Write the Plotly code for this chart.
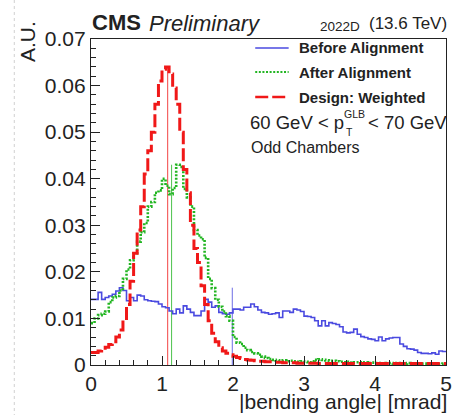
import numpy as np
import plotly.graph_objects as go

# |bending angle| histograms, 100 bins of 0.05 mrad between 0 and 5 mrad (normalised, A.U.)
bin_edges = np.round(np.linspace(0.0, 5.0, 101), 3)

before_alignment = [
    0.0141, 0.0141, 0.0156, 0.0141, 0.0145, 0.0148, 0.0152, 0.0159, 0.0166, 0.0160,
    0.0138, 0.0145, 0.0138, 0.0150, 0.0148, 0.0140, 0.0138, 0.0137, 0.0136, 0.0131,
    0.0125, 0.0123, 0.0116, 0.0110, 0.0120, 0.0112, 0.0127, 0.0120, 0.0113, 0.0106,
    0.0106, 0.0116, 0.0141, 0.0135, 0.0124, 0.0127, 0.0113, 0.0110, 0.0109, 0.0112,
    0.0120, 0.0120, 0.0118, 0.0124, 0.0124, 0.0131, 0.0125, 0.0118, 0.0113, 0.0112,
    0.0109, 0.0110, 0.0112, 0.0102, 0.0116, 0.0116, 0.0113, 0.0120, 0.0118, 0.0115,
    0.0105, 0.0104, 0.0102, 0.0095, 0.0084, 0.0095, 0.0084, 0.0091, 0.0089, 0.0087,
    0.0082, 0.0071, 0.0069, 0.0070, 0.0077, 0.0066, 0.0061, 0.0059, 0.0056, 0.0055,
    0.0052, 0.0060, 0.0052, 0.0056, 0.0058, 0.0059, 0.0059, 0.0045, 0.0040, 0.0035,
    0.0034, 0.0032, 0.0027, 0.0025, 0.0025, 0.0024, 0.0026, 0.0023, 0.0030, 0.0029,
]

after_alignment = [
    0.0090, 0.0100, 0.0107, 0.0110, 0.0115, 0.0135, 0.0145, 0.0148, 0.0160, 0.0185,
    0.0205, 0.0225, 0.0240, 0.0265, 0.0285, 0.0305, 0.0340, 0.0350, 0.0370, 0.0375,
    0.0400, 0.0385, 0.0367, 0.0380, 0.0430, 0.0425, 0.0378, 0.0360, 0.0340, 0.0290,
    0.0278, 0.0270, 0.0230, 0.0185, 0.0165, 0.0140, 0.0125, 0.0115, 0.0105, 0.0095,
    0.0060, 0.0048, 0.0045, 0.0037, 0.0032, 0.0028, 0.0025, 0.0022, 0.0018, 0.0015,
    0.0013, 0.0011, 0.0010, 0.0009, 0.0010, 0.0008, 0.0009, 0.0008, 0.0007, 0.0008,
    0.0007, 0.0006, 0.0008, 0.0011, 0.0012, 0.0011, 0.0010, 0.0009, 0.0009, 0.0008,
    0.0007, 0.0006, 0.0007, 0.0005, 0.0006, 0.0006, 0.0005, 0.0006, 0.0004, 0.0005,
    0.0004, 0.0004, 0.0003, 0.0004, 0.0004, 0.0003, 0.0004, 0.0003, 0.0003, 0.0004,
    0.0003, 0.0003, 0.0002, 0.0003, 0.0003, 0.0002, 0.0003, 0.0002, 0.0002, 0.0003,
]

design_weighted = [
    0.0027, 0.0027, 0.0030, 0.0033, 0.0038, 0.0044, 0.0050, 0.0060, 0.0075, 0.0100,
    0.0130, 0.0180, 0.0240, 0.0290, 0.0340, 0.0410, 0.0460, 0.0500, 0.0560, 0.0610,
    0.0635, 0.0640, 0.0625, 0.0595, 0.0560, 0.0500, 0.0420, 0.0370, 0.0300, 0.0250,
    0.0220, 0.0170, 0.0130, 0.0095, 0.0068, 0.0050, 0.0037, 0.0030, 0.0025, 0.0022,
    0.0019, 0.0016, 0.0014, 0.0012, 0.0011, 0.0010, 0.0009, 0.0008, 0.0008, 0.0007,
    0.0007, 0.0006, 0.0006, 0.0006, 0.0005, 0.0005, 0.0005, 0.0005, 0.0004, 0.0004,
    0.0004, 0.0004, 0.0004, 0.0004, 0.0003, 0.0003, 0.0003, 0.0003, 0.0003, 0.0003,
    0.0003, 0.0003, 0.0003, 0.0003, 0.0003, 0.0003, 0.0003, 0.0003, 0.0003, 0.0003,
    0.0003, 0.0003, 0.0003, 0.0003, 0.0003, 0.0003, 0.0003, 0.0003, 0.0003, 0.0003,
    0.0003, 0.0003, 0.0003, 0.0003, 0.0003, 0.0003, 0.0003, 0.0003, 0.0003, 0.0003,
]

# Position of the marker line drawn for each distribution [mrad]
marker_before = 1.99
marker_after = 1.135
marker_design = 1.08

series_names = ["Before Alignment", "After Alignment", "Design: Weighted"]
x_tick_values = [0, 1, 2, 3, 4, 5]
y_tick_values = [0, 0.01, 0.02, 0.03, 0.04, 0.05, 0.06, 0.07]
y_tick_labels = ["0", "0.01", "0.02", "0.03", "0.04", "0.05", "0.06", "0.07"]

FONT = "Liberation Sans, Arial, Helvetica, sans-serif"
W, H = 458, 415
ML, MR, MT, MB = 91, 6, 39, 50
PW, PH = W - ML - MR, H - MT - MB


def px(x):
    return (x - ML) / PW


def py(y):
    return (H - MB - y) / PH


def step_xy(values):
    xs = list(bin_edges)
    ys = list(values) + [values[-1]]
    return xs, ys


styles = [
    dict(color="#4a4ae0", width=1.6, dash="solid"),
    dict(color="#22b522", width=2.6, dash="2px,1.6px"),
    dict(color="#f01818", width=3.0, dash="13px,4px"),
]
series = [before_alignment, after_alignment, design_weighted]
markers = [marker_before, marker_after, marker_design]

fig = go.Figure()

# thin marker lines, from zero up to each histogram's maximum
for vals, mx, st in zip(series, markers, styles):
    fig.add_trace(go.Scatter(
        x=[mx, mx], y=[0, max(vals)], mode="lines",
        line=dict(color=st["color"], width=1), opacity=0.8,
        showlegend=False, hoverinfo="skip"))

for name, vals, st in zip(series_names, series, styles):
    xs, ys = step_xy(vals)
    fig.add_trace(go.Scatter(
        x=xs, y=ys, mode="lines", name=name, line_shape="hv",
        line=dict(color=st["color"], width=st["width"], dash=st["dash"]),
        showlegend=False))

axis_common = dict(
    showgrid=False, zeroline=False, showline=True, mirror=True,
    linecolor="#222", linewidth=1.4, ticks="inside", tickcolor="#222",
    tickwidth=1, tickfont=dict(family=FONT, size=21, color="#222"),
)
fig.update_xaxes(range=[0, 5], tickvals=x_tick_values, ticklen=9,
                 minor=dict(ticks="inside", ticklen=5, dtick=0.2, tickcolor="#222"),
                 **axis_common)
fig.update_yaxes(range=[0, 0.07], tickvals=y_tick_values, ticktext=y_tick_labels,
                 ticklen=9,
                 minor=dict(ticks="inside", ticklen=5, dtick=0.002, tickcolor="#222"),
                 **axis_common)

ann = []


def text(s, x, y, size, xanchor="left", yanchor="middle", **kw):
    ann.append(dict(text=s, x=px(x), y=py(y), xref="paper", yref="paper",
                    xanchor=xanchor, yanchor=yanchor, showarrow=False,
                    font=dict(family=FONT, size=size, color="#222"), **kw))


# header
text("<b>CMS</b>", 90, 22, 22)
text("<i>Preliminary</i>", 148, 23, 22)
text("2022D", 322, 26, 13.5)
text("(13.6 TeV)", 455, 23, 17, xanchor="right")

# axis titles
text("A.U.", 27, 42, 21, xanchor="center", textangle=-90)
text("|bending angle| [mrad]", 455, 401, 21, xanchor="right")

# legend
legend_rows = [48, 72, 97]
shapes = []
for name, st, yr in zip(series_names, styles, legend_rows):
    shapes.append(dict(type="line", xref="paper", yref="paper",
                       x0=px(258), x1=px(292), y0=py(yr), y1=py(yr),
                       line=dict(color=st["color"], width=st["width"] * 0.8,
                                 dash=st["dash"])))
    text("<b>%s</b>" % name, 300, yr, 15)

# kinematic selection line: p_T with stacked GLB / T indices
text("60 GeV &lt; p", 251, 123, 18.5)
text("GLB", 346, 114, 10.5)
text("T", 348, 132, 10.5)
text("&lt; 70 GeV", 371, 123, 18.5)
text("Odd Chambers", 252, 147, 16)

# faint page edge guide on the left
shapes.append(dict(type="line", xref="paper", yref="paper",
                   x0=px(13), x1=px(13), y0=py(0), y1=py(H),
                   line=dict(color="#d0d0d0", width=1, dash="3px,3px")))

fig.update_layout(
    width=W, height=H, margin=dict(l=ML, r=MR, t=MT, b=MB),
    paper_bgcolor="white", plot_bgcolor="white",
    annotations=ann, shapes=shapes, showlegend=False,
)

fig.write_html("out.html")
